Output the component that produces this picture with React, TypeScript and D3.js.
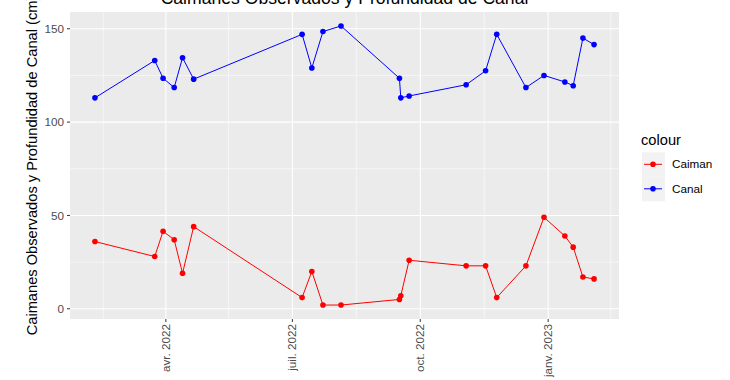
import React from "react";
import * as d3 from "d3";

const dates = [
  "2022-02-09", "2022-03-24", "2022-03-30", "2022-04-07", "2022-04-13", "2022-04-21",
  "2022-07-08", "2022-07-15", "2022-07-23", "2022-08-05", "2022-09-16", "2022-09-17",
  "2022-09-23", "2022-11-03", "2022-11-17", "2022-11-25", "2022-12-16", "2022-12-29",
  "2023-01-13", "2023-01-19", "2023-01-26", "2023-02-03",
];
const caiman = [36, 28, 41.5, 37, 19, 44, 6, 20, 2, 2, 5, 7, 26, 23, 23, 6, 23, 49, 39, 33, 17, 16];
const canal = [113, 133, 123.5, 118.5, 134.5, 123, 147, 129, 148.5, 151.5, 123.5, 113, 114, 120, 127.5, 147, 118.5, 125, 121.5, 119.5, 145, 141.5];
const yTicks = [0, 50, 100, 150];
const yMinor = [25, 75, 125];
const xTickDates = ["2022-04-01", "2022-07-01", "2022-10-01", "2023-01-01"];
const xTickLabels = ["avr. 2022", "juil. 2022", "oct. 2022", "janv. 2023"];
const xMinorDates = ["2022-02-15", "2022-05-16", "2022-08-16", "2022-11-16", "2023-02-15"];
const seriesNames = ["Caiman", "Canal"];
const seriesColors = ["#FF0000", "#0000FF"];
const title = "Caimanes Observados y Profundidad de Canal";
const yTitle = "Caimanes Observados y Profundidad de Canal (cm)";

const W = 730, H = 380;
const P = { left: 70, right: 619, top: 12, bottom: 319 };
const font = "'Liberation Sans', Arial, sans-serif";

export default function App() {
  const parse = d3.timeParse("%Y-%m-%d");
  const xs = dates.map((d) => parse(d) as Date);
  const [xmin, xmax] = d3.extent(xs) as [Date, Date];
  const span = +xmax - +xmin;
  const x = d3.scaleTime()
    .domain([new Date(+xmin - span * 0.05), new Date(+xmax + span * 0.05)])
    .range([P.left, P.right]);
  const all = [...caiman, ...canal];
  const ymin = d3.min(all) as number, ymax = d3.max(all) as number;
  const yr = ymax - ymin;
  const y = d3.scaleLinear().domain([ymin - 0.05 * yr, ymax + 0.05 * yr]).range([P.bottom, P.top]);

  const series = [caiman, canal];
  const line = d3.line<[Date, number]>().x((d) => x(d[0])).y((d) => y(d[1]));

  return (
    <svg width={W} height={H} style={{ position: "absolute", left: 0, top: 0, background: "#fff" }} fontFamily={font}>
      <rect x={P.left} y={P.top} width={P.right - P.left} height={P.bottom - P.top} fill="#EBEBEB" />
      {yMinor.map((v) => (
        <line key={"ym" + v} x1={P.left} x2={P.right} y1={y(v)} y2={y(v)} stroke="#fff" strokeWidth={0.55} />
      ))}
      {xMinorDates.map((d) => {
        const xv = x(parse(d) as Date);
        if (xv < P.left || xv > P.right) return null;
        return <line key={"xm" + d} x1={xv} x2={xv} y1={P.top} y2={P.bottom} stroke="#fff" strokeWidth={0.55} />;
      })}
      {yTicks.map((v) => (
        <line key={"yg" + v} x1={P.left} x2={P.right} y1={y(v)} y2={y(v)} stroke="#fff" strokeWidth={1.1} />
      ))}
      {xTickDates.map((d) => {
        const xv = x(parse(d) as Date);
        return <line key={"xg" + d} x1={xv} x2={xv} y1={P.top} y2={P.bottom} stroke="#fff" strokeWidth={1.1} />;
      })}
      {series.map((s, i) => (
        <g key={"s" + i}>
          <path d={line(s.map((v, j) => [xs[j], v] as [Date, number])) || ""} fill="none" stroke={seriesColors[i]} strokeWidth={1} />
          {s.map((v, j) => (
            <circle key={j} cx={x(xs[j])} cy={y(v)} r={2.8} fill={seriesColors[i]} />
          ))}
        </g>
      ))}
      {yTicks.map((v) => (
        <g key={"yt" + v}>
          <line x1={P.left - 3} x2={P.left} y1={y(v)} y2={y(v)} stroke="#333" strokeWidth={1} />
          <text x={P.left - 6} y={y(v)} dy="0.35em" textAnchor="end" fontSize={11.7} fill="#4D4D4D">{v}</text>
        </g>
      ))}
      {xTickDates.map((d, i) => {
        const xv = x(parse(d) as Date);
        return (
          <g key={"xt" + d}>
            <line x1={xv} x2={xv} y1={P.bottom} y2={P.bottom + 3} stroke="#333" strokeWidth={1} />
            <text transform={`translate(${xv},${P.bottom + 5}) rotate(-90)`} dy="0.35em" textAnchor="end" fontSize={11.7} fill="#4D4D4D">
              {xTickLabels[i]}
            </text>
          </g>
        );
      })}
      <text x={(P.left + P.right) / 2} y={4} textAnchor="middle" fontSize={17.6} fill="#000">{title}</text>
      <text transform={`translate(37,${(P.top + P.bottom) / 2}) rotate(-90)`} textAnchor="middle" fontSize={14.67} fill="#000">{yTitle}</text>
      <text x={641} y={145} fontSize={14.67} fill="#000">colour</text>
      {seriesNames.map((n, i) => {
        const cy = 164.3 + i * 24.5;
        return (
          <g key={"lg" + n}>
            <rect x={642} y={cy - 12} width={23} height={24.5} fill="#F2F2F2" />
            <line x1={644} x2={662} y1={cy} y2={cy} stroke={seriesColors[i]} strokeWidth={1} />
            <circle cx={653} cy={cy} r={2.8} fill={seriesColors[i]} />
            <text x={672} y={cy} dy="0.35em" fontSize={11.7} fill="#000">{n}</text>
          </g>
        );
      })}
    </svg>
  );
}
